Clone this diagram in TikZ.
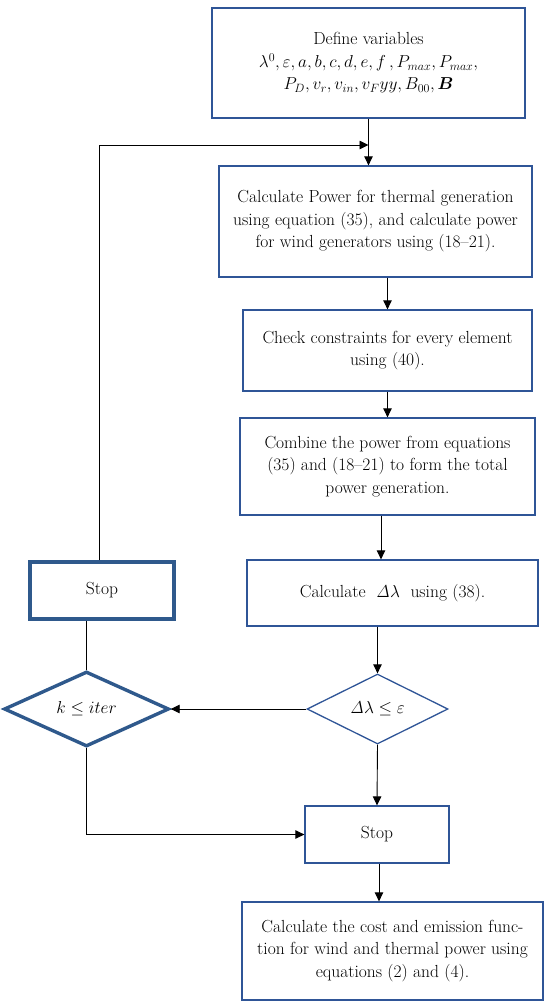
\documentclass[tikz,border=0pt]{standalone}
\usetikzlibrary{arrows.meta,shapes.geometric}
\usepackage{amsmath,bm}
\definecolor{boxblue}{RGB}{47,85,151}
\definecolor{thickblue}{RGB}{47,89,140}
\begin{document}
\begin{tikzpicture}[x=1pt,y=-1pt,
  every node/.style={font=\fontsize{17.5}{22.5}\selectfont, inner sep=0pt, align=center},
  procbox/.style={draw=boxblue, line width=1.3pt, rectangle},
  thickbox/.style={draw=thickblue, line width=3.2pt, rectangle},
  decide/.style={draw=boxblue, line width=1.3pt, diamond},
  thickdecide/.style={draw=thickblue, line width=3.4pt, diamond},
  conn/.style={draw=black, line width=0.9pt},
  arr/.style={conn, -{Triangle[length=9pt,width=8.5pt]}}
]
\useasboundingbox (0,0) rectangle (550,1007);

\node[procbox, minimum width=313pt, minimum height=110pt] (b1) at (368.5,63)
  {Define variables\\ $\lambda^0, \varepsilon, a, b, c, d, e, f\,, P_{max}, P_{max},$\\ $P_D, v_r, v_{in}, v_F yy, B_{00}, \bm{B}$};
\node[procbox, minimum width=313pt, minimum height=111pt] (b2) at (375.5,221.5)
  {Calculate Power for thermal generation\\ using equation (35), and calculate power\\ for wind generators using (18--21).};
\node[procbox, minimum width=289pt, minimum height=81pt] (b3) at (387.5,350.5)
  {Check constraints for every element\\ using (40).};
\node[procbox, minimum width=295pt, minimum height=97pt] (b4) at (387.5,466.5)
  {Combine the power from equations\\ (35) and (18--21) to form the total\\ power generation.};
\node[procbox, minimum width=291pt, minimum height=66pt] (b5) at (392.5,593)
  {Calculate \ $\mathit{\Delta}\lambda$ \ using (38).};
\node[thickbox, minimum width=144pt, minimum height=57pt] (sl) at (102,590.5) {Stop};
\node[decide, minimum width=141pt, minimum height=70pt, aspect=2] (dr) at (377.5,709)
  {$\mathit{\Delta}\lambda \leq \varepsilon$};
\node[thickdecide, minimum width=165pt, minimum height=75pt, aspect=2.2] (dl) at (86.5,709)
  {$k \leq iter$};
\node[procbox, minimum width=144pt, minimum height=57pt] (s2) at (377,834.5) {Stop};
\node[procbox, minimum width=301pt, minimum height=98pt] (b6) at (392.5,951)
  {Calculate the cost and emission func-\\ tion for wind and thermal power using\\ equations (2) and (4).};

\coordinate (j) at (368.5,145);
\draw[arr] (b1.south) -- (b1.south |- b2.north);
\draw[arr] (sl.north -| 99,0) |- (j);
\draw[arr] (b2.south -| b3.north) -- (b3.north);
\draw[arr] (b3.south) -- (b4.north);
\draw[arr] (b4.south -| 381,0) -- (b5.north -| 381,0);
\draw[arr] (b5.south -| dr.north) -- (dr.north);
\draw[arr] (dr.west) -- (dl.east);
\draw[conn] (dl.north) -- (dl.north |- sl.south);
\draw[arr] (dr.south) -- (s2.north);
\draw[arr] (dl.south) |- (s2.west);
\draw[arr] (s2.south -| 379,0) -- (b6.north -| 379,0);
\end{tikzpicture}
\end{document}
